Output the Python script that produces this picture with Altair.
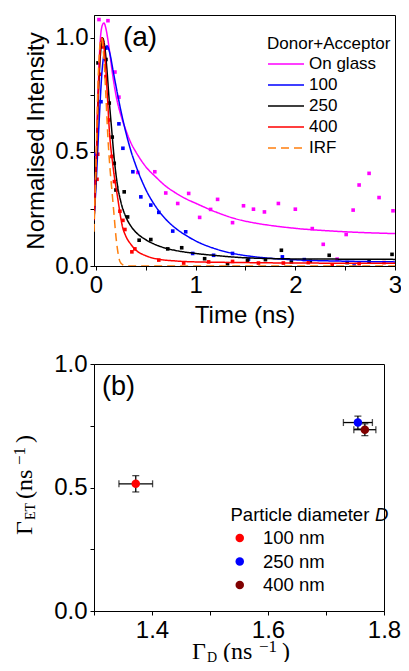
import altair as alt
import pandas as pd

# ---------------- panel (a): decay curves ----------------
series_names = ["On glass", "100", "250", "400", "IRF"]
series_colors = ["#ff00ff", "#0000ff", "#000000", "#ff0000", "#ff7f0e"]
series_dash = [[1, 0], [1, 0], [1, 0], [1, 0], [8, 5]]
series_width = [1.5, 1.5, 1.5, 1.5, 2.6]

fit_glass_t = [-0.02, 0.0, 0.02, 0.04, 0.06, 0.08, 0.1, 0.13, 0.16, 0.2, 0.25, 0.3, 0.35, 0.4, 0.5, 0.6, 0.7, 0.8, 0.9, 1.0, 1.2, 1.4, 1.6, 1.8, 2.0, 2.3, 2.6, 3.0]
fit_glass_v = [0.25, 0.45, 0.75, 0.97, 1.05, 1.065, 1.04, 0.96, 0.86, 0.75, 0.66, 0.595, 0.54, 0.5, 0.435, 0.39, 0.35, 0.32, 0.295, 0.275, 0.237, 0.207, 0.188, 0.175, 0.165, 0.155, 0.148, 0.142]

fit_100_t = [-0.02, 0.0, 0.03, 0.06, 0.09, 0.11, 0.14, 0.17, 0.2, 0.25, 0.3, 0.35, 0.4, 0.5, 0.6, 0.7, 0.8, 0.9, 1.0, 1.2, 1.4, 1.6, 1.8, 2.0, 2.5, 3.0]
fit_100_v = [0.2, 0.35, 0.62, 0.85, 0.95, 0.965, 0.93, 0.86, 0.79, 0.68, 0.585, 0.505, 0.44, 0.335, 0.26, 0.205, 0.165, 0.135, 0.11, 0.075, 0.053, 0.04, 0.032, 0.027, 0.021, 0.018]

fit_250_t = [-0.02, 0.0, 0.02, 0.045, 0.065, 0.085, 0.11, 0.13, 0.157, 0.183, 0.21, 0.25, 0.3, 0.35, 0.4, 0.5, 0.6, 0.7, 0.8, 1.0, 1.2, 1.5, 2.0, 2.5, 3.0]
fit_250_v = [0.2, 0.4, 0.7, 0.93, 1.0, 0.97, 0.86, 0.74, 0.6, 0.47, 0.37, 0.28, 0.215, 0.175, 0.148, 0.115, 0.093, 0.078, 0.068, 0.055, 0.046, 0.036, 0.031, 0.03, 0.029]

fit_400_t = [-0.02, 0.0, 0.02, 0.04, 0.06, 0.08, 0.1, 0.12, 0.133, 0.167, 0.217, 0.267, 0.3, 0.35, 0.4, 0.5, 0.6, 0.8, 1.0, 1.5, 2.0, 3.0]
fit_400_v = [0.2, 0.42, 0.72, 0.93, 1.0, 0.96, 0.85, 0.7, 0.6, 0.45, 0.3, 0.17, 0.13, 0.095, 0.07, 0.045, 0.032, 0.022, 0.018, 0.015, 0.013, 0.012]

irf_t = [-0.02, 0.0, 0.02, 0.04, 0.055, 0.07, 0.085, 0.1, 0.12, 0.14, 0.16, 0.18, 0.2, 0.22, 0.24, 0.27, 0.3, 1.0, 2.0, 3.0]
irf_v = [0.15, 0.45, 0.8, 0.97, 1.0, 0.96, 0.87, 0.74, 0.56, 0.43, 0.33, 0.23, 0.13, 0.06, 0.02, 0.005, 0.0, 0.0, 0.0, 0.0]

dots_glass_t = [0.03, 0.12, 0.19, 0.23, 0.42, 0.59, 0.70, 0.82, 0.93, 1.04, 1.15, 1.22, 1.37, 1.48, 1.58, 1.69, 1.83, 2.0, 2.17, 2.28, 2.42, 2.51, 2.58, 2.64, 2.74, 2.84, 2.98]
dots_glass_v = [1.08, 1.075, 0.85, 0.74, 0.41, 0.413, 0.32, 0.274, 0.318, 0.213, 0.248, 0.292, 0.19, 0.264, 0.249, 0.237, 0.274, 0.249, 0.164, 0.095, 0.03, 0.138, 0.245, 0.355, 0.406, 0.3, 0.242]

dots_100_t = [0.0, 0.05, 0.1, 0.23, 0.27, 0.37, 0.45, 0.55, 0.63, 0.77, 0.9, 0.97, 1.18, 1.37, 1.53, 1.87, 2.09, 2.59]
dots_100_v = [0.49, 0.72, 0.955, 0.623, 0.516, 0.413, 0.303, 0.267, 0.235, 0.153, 0.15, 0.055, 0.047, 0.055, 0.03, 0.04, 0.028, 0.0]

dots_250_t = [0.02, 0.1, 0.133, 0.163, 0.183, 0.2, 0.283, 0.317, 0.433, 0.55, 0.72, 0.86, 1.09, 1.32, 1.52, 1.7, 1.86, 1.96, 2.15, 2.34, 2.52, 2.74, 2.97]
dots_250_v = [0.89, 0.905, 0.714, 0.565, 0.45, 0.333, 0.325, 0.215, 0.113, 0.116, 0.075, 0.08, 0.032, 0.01, 0.025, 0.028, 0.069, 0.018, 0.021, 0.047, 0.015, 0.018, 0.051]

dots_400_t = [0.01, 0.017, 0.04, 0.06, 0.1, 0.13, 0.16, 0.185, 0.24, 0.27, 0.29, 0.36, 0.39, 0.63, 0.88, 1.13, 1.37, 1.63, 1.88, 2.13, 2.37, 2.64, 2.89]
dots_400_v = [0.38, 0.49, 0.84, 0.96, 0.83, 0.64, 0.48, 0.37, 0.24, 0.2, 0.16, 0.062, 0.075, 0.026, 0.013, 0.018, 0.02, 0.013, 0.013, 0.015, 0.005, 0.01, 0.015]

# ---------------- panel (b): rates ----------------
size_labels = ["100 nm", "250 nm", "400 nm"]
size_colors = ["#ff0000", "#0000ff", "#800000"]
gamma_d = [1.372, 1.755, 1.767]
gamma_d_err = [0.029, 0.025, 0.019]
gamma_et = [0.515, 0.763, 0.734]
gamma_et_err = [0.033, 0.026, 0.024]

SANS = "Liberation Sans"
SERIF = "Liberation Serif"
WA, HA = 301, 251
WB, HB = 290, 247

# ---- build tables ----
fits = []
for name, ts, vs in [("On glass", fit_glass_t, fit_glass_v), ("100", fit_100_t, fit_100_v),
                     ("250", fit_250_t, fit_250_v), ("400", fit_400_t, fit_400_v),
                     ("IRF", irf_t, irf_v)]:
    for t, v in zip(ts, vs):
        fits.append({"series": name, "t": t, "v": v})
fit_df = pd.DataFrame(fits)

xa_scale = alt.Scale(domain=[-0.02, 3], nice=False, zero=False)
ya_scale = alt.Scale(domain=[0, 1.1], nice=False)
xa_axis = alt.Axis(title="Time (ns)", values=[0, 0.5, 1, 1.5, 2, 2.5, 3],
                   labelExpr="datum.value % 1 == 0 ? format(datum.value, 'd') : ''",
                   titlePadding=6, labelPadding=3)
ya_axis = alt.Axis(title="Normalised Intensity", values=[0, 0.25, 0.5, 0.75, 1.0],
                   labelExpr="(round(datum.value * 4) % 2 == 0) ? format(datum.value, '.1f') : ''",
                   titlePadding=6, labelPadding=2)

legend_a = alt.Legend(title="Donor+Acceptor", orient="none", legendX=173, legendY=21,
                      symbolType="stroke", symbolSize=1296, symbolStrokeWidth=1.6,
                      clipHeight=16, rowPadding=4, labelFont=SANS, labelFontSize=17,
                      labelFontWeight="normal",
                      titleFont=SANS, titleFontSize=17, titleFontWeight="normal",
                      titlePadding=3, labelOffset=4, padding=0,
                      labelColor="black", titleColor="black")

dot_layers = []
for name, col, ts, vs in [("On glass", "#ff00ff", dots_glass_t, dots_glass_v),
                          ("100", "#0000ff", dots_100_t, dots_100_v),
                          ("250", "#000000", dots_250_t, dots_250_v),
                          ("400", "#ff0000", dots_400_t, dots_400_v)]:
    d = pd.DataFrame({"t": ts, "v": vs})
    dot_layers.append(
        alt.Chart(d).mark_square(size=13, opacity=1, color=col, clip=True).encode(
            x=alt.X("t:Q", scale=xa_scale, axis=xa_axis),
            y=alt.Y("v:Q", scale=ya_scale, axis=ya_axis)))

fit_layer = alt.Chart(fit_df).mark_line(interpolate="monotone", clip=True).encode(
    x=alt.X("t:Q", scale=xa_scale, axis=xa_axis),
    y=alt.Y("v:Q", scale=ya_scale, axis=ya_axis),
    color=alt.Color("series:N", scale=alt.Scale(domain=series_names, range=series_colors),
                    legend=legend_a),
    strokeDash=alt.StrokeDash("series:N", scale=alt.Scale(domain=series_names, range=series_dash),
                              legend=legend_a),
    strokeWidth=alt.StrokeWidth("series:N", scale=alt.Scale(domain=series_names, range=series_width),
                                legend=None),
    order=alt.Order("t:Q"))

label_a = alt.Chart(pd.DataFrame({"s": ["(a)"]})).mark_text(
    font=SANS, fontSize=28, align="center", baseline="middle", color="black").encode(
    text="s:N", x=alt.value(46), y=alt.value(23))

panel_a = alt.layer(*dot_layers, fit_layer, label_a).properties(width=WA, height=HA)

# ---- panel (b) ----
b_df = pd.DataFrame({
    "size": size_labels,
    "gd": gamma_d,
    "gd_lo": [g - e for g, e in zip(gamma_d, gamma_d_err)],
    "gd_hi": [g + e for g, e in zip(gamma_d, gamma_d_err)],
    "get": gamma_et,
    "get_lo": [g - e for g, e in zip(gamma_et, gamma_et_err)],
    "get_hi": [g + e for g, e in zip(gamma_et, gamma_et_err)],
})

xb_scale = alt.Scale(domain=[1.3, 1.8], nice=False, zero=False)
yb_scale = alt.Scale(domain=[0, 1.0], nice=False)
xb_axis = alt.Axis(title=None, values=[1.3, 1.4, 1.5, 1.6, 1.7, 1.8],
                   labelExpr="(round(datum.value * 10) % 2 == 0) ? format(datum.value, '.1f') : ''",
                   labelPadding=3)
yb_axis = alt.Axis(title=None, values=[0, 0.25, 0.5, 0.75, 1.0],
                   labelExpr="(round(datum.value * 4) % 2 == 0) ? format(datum.value, '.1f') : ''",
                   labelPadding=3)

legend_b = alt.Legend(title="Particle diameter", orient="none", legendX=136.5, legendY=142,
                      symbolType="circle", symbolSize=72, symbolStrokeWidth=0, symbolOpacity=1,
                      clipHeight=18, rowPadding=4.5, labelFont=SANS, labelFontSize=18.5,
                      labelFontWeight="normal",
                      titleFont=SANS, titleFontSize=18.5, titleFontWeight="normal",
                      titlePadding=4.5, labelOffset=14, padding=0,
                      labelColor="black", titleColor="black")

err_x = alt.Chart(b_df).mark_errorbar(ticks={"size": 7}, color="black", thickness=1.3).encode(
    x=alt.X("gd_lo:Q", scale=xb_scale, axis=xb_axis), x2="gd_hi:Q",
    y=alt.Y("get:Q", scale=yb_scale, axis=yb_axis))
err_y = alt.Chart(b_df).mark_errorbar(ticks={"size": 7}, color="black", thickness=1.3).encode(
    y=alt.Y("get_lo:Q", scale=yb_scale, axis=yb_axis), y2="get_hi:Q",
    x=alt.X("gd:Q", scale=xb_scale, axis=xb_axis))
pts = alt.Chart(b_df).mark_circle(size=72, opacity=1).encode(
    x=alt.X("gd:Q", scale=xb_scale, axis=xb_axis),
    y=alt.Y("get:Q", scale=yb_scale, axis=yb_axis),
    color=alt.Color("size:N", scale=alt.Scale(domain=size_labels, range=size_colors),
                    legend=legend_b))

label_b = alt.Chart(pd.DataFrame({"s": ["(b)"]})).mark_text(
    font=SANS, fontSize=27, align="center", baseline="middle", color="black").encode(
    text="s:N", x=alt.value(24.5), y=alt.value(23))

legend_d = alt.Chart(pd.DataFrame({"s": ["D"]})).mark_text(
    font=SANS, fontSize=18.5, fontStyle="italic", align="left", baseline="top", color="black").encode(
    text="s:N", x=alt.value(281), y=alt.value(142))


def piece(txt, x, y, size, angle=0):
    kw = dict(font=SERIF, fontSize=size, align="left", baseline="alphabetic", color="black")
    if angle:
        kw["angle"] = angle
    return alt.Chart(pd.DataFrame({"s": [txt]})).mark_text(**kw).encode(
        text="s:N", x=alt.value(x), y=alt.value(y))


# y title: Γ_ET (ns^-1), rotated
ytitle = [
    piece("Γ", -62, 171, 24, 270),
    piece("ET", -59, 156, 14, 270),
    piece("(ns", -62, 135, 24, 270),
    piece("−1", -69, 101, 17, 270),
    piece(")", -62, 79, 24, 270),
]
# x title: Γ_D (ns^-1)  (bottom of the page cuts it, as in the reference)
xb0 = 98
base = HB + 48
xtitle = [
    piece("Γ", xb0, base, 24),
    piece("D", xb0 + 15, base + 3, 14),
    piece("(ns", xb0 + 31, base, 24),
    piece("−1", xb0 + 67, base - 7, 17),
    piece(")", xb0 + 90, base, 24),
]

panel_b = alt.layer(err_x, err_y, pts, label_b, legend_d, *ytitle, *xtitle).properties(
    width=WB, height=HB)

# fixed-size svg 393 x 654 so the page fits the window: plot (a) at (94, 15)
chart = alt.vconcat(panel_a, panel_b, spacing=98, bounds="flush").resolve_scale(
    color="independent", strokeDash="independent", strokeWidth="independent"
).resolve_legend(
    color="independent", strokeDash="independent"
).properties(
    autosize=alt.AutoSizeParams(type="none"),
    padding={"left": 86, "top": 7, "right": 307, "bottom": 647}
).configure_view(stroke="black", strokeWidth=1).configure_axis(
    grid=False, domainColor="black", tickColor="black", tickSize=4, tickWidth=1,
    labelFont=SANS, labelFontSize=24, labelColor="black", labelFlush=False,
    labelOverlap=False, titleFont=SANS, titleFontSize=24, titleFontWeight="normal",
    titleColor="black")

chart.save("out.html", embed_options={"renderer": "svg", "actions": False})
